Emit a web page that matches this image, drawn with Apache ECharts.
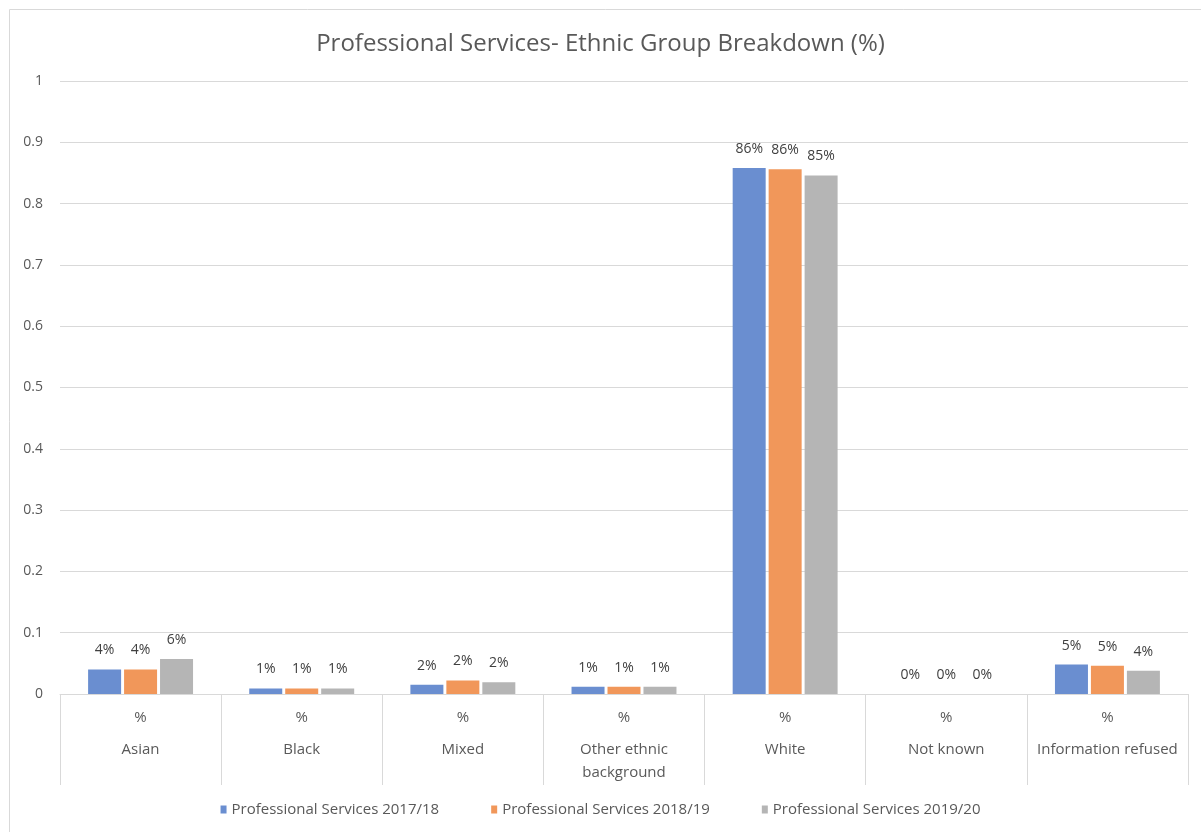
<!DOCTYPE html>
<html>
<head>
<meta charset="utf-8">
<script src="https://cdn.jsdelivr.net/npm/echarts@6/dist/echarts.min.js"></script>
<style>
html,body{margin:0;padding:0;background:#fff;}
#chart{width:1201px;height:832px;}
</style>
</head>
<body>
<div id="chart"></div>
<script>
const categories = ['Asian', 'Black', 'Mixed', 'Other ethnic\nbackground', 'White', 'Not known', 'Information refused'];
const subLabel = '%';
const seriesNames = ['Professional Services 2017/18', 'Professional Services 2018/19', 'Professional Services 2019/20'];
const values2017 = [0.040, 0.009, 0.015, 0.012, 0.858, 0, 0.048];
const values2018 = [0.040, 0.009, 0.022, 0.012, 0.856, 0, 0.046];
const values2019 = [0.057, 0.009, 0.019, 0.012, 0.846, 0, 0.038];
const yTicks = { min: 0, max: 1, interval: 0.1 };

const colors = ['#6A8ED0', '#F1975A', '#B5B5B5'];
const font = '"Open Sans", "Noto Sans", sans-serif';
const chart = echarts.init(document.getElementById('chart'));

function mkSeries(name, data, color) {
  return {
    name: name,
    type: 'bar',
    data: data,
    barWidth: 33,
    barGap: '9%',
    itemStyle: { color: color },
    label: {
      show: true,
      position: 'top',
      distance: 12,
      color: '#404040',
      fontFamily: font,
      fontSize: 14,
      formatter: p => Math.round(p.value * 100) + '%'
    }
  };
}

chart.setOption({
  animation: false,
  textStyle: { fontFamily: font },
  title: {
    text: 'Professional Services- Ethnic Group Breakdown (%)',
    left: 'center',
    top: 27,
    textStyle: { fontFamily: font, fontSize: 24, fontWeight: 'normal', color: '#595959' }
  },
  graphic: [{
    type: 'rect',
    shape: { x: 9.5, y: 9.5, width: 1200, height: 830 },
    style: { fill: 'none', stroke: '#d9d9d9', lineWidth: 1 },
    silent: true
  }],
  legend: {
    bottom: 10,
    left: 'center',
    itemWidth: 6,
    itemHeight: 8,
    itemGap: 52,
    icon: 'rect',
    textStyle: { fontFamily: font, fontSize: 15, color: '#595959' },
    data: seriesNames
  },
  grid: { left: 60, right: 13, top: 81, bottom: 138, containLabel: false },
  xAxis: {
    type: 'category',
    data: categories,
    axisLine: { lineStyle: { color: '#d9d9d9' } },
    axisTick: { show: true, length: 91, interval: 0, lineStyle: { color: '#d9d9d9' } },
    axisLabel: {
      interval: 0,
      margin: 3,
      color: '#595959',
      fontFamily: font,
      fontSize: 15,
      formatter: v => '{p|' + subLabel + '}\n' + v.split('\n').map(s => '{c|' + s + '}').join('\n'),
      rich: {
        p: { lineHeight: 41, fontSize: 15, color: '#595959', fontFamily: font },
        c: { lineHeight: 23, fontSize: 15, color: '#595959', fontFamily: font }
      }
    }
  },
  yAxis: {
    type: 'value',
    min: yTicks.min,
    max: yTicks.max,
    interval: yTicks.interval,
    axisLine: { show: false },
    axisTick: { show: false },
    splitLine: { lineStyle: { color: '#d9d9d9' } },
    axisLabel: { color: '#595959', fontFamily: font, fontSize: 14, margin: 17 }
  },
  series: [
    mkSeries(seriesNames[0], values2017, colors[0]),
    mkSeries(seriesNames[1], values2018, colors[1]),
    mkSeries(seriesNames[2], values2019, colors[2])
  ]
});
</script>
</body>
</html>
